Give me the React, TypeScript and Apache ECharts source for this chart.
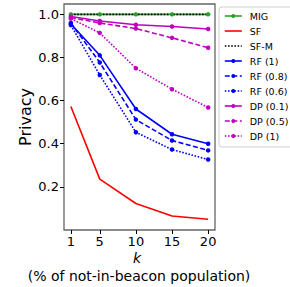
import React, { useEffect, useRef } from "react";
import * as echarts from "echarts";

const kValues = [1, 5, 10, 15, 20];
const xTicks = [1, 5, 10, 15, 20];
const yTicks = [0.2, 0.4, 0.6, 0.8, 1.0];

const mig = [1.0, 1.0, 1.0, 1.0, 1.0];
const sf = [0.573, 0.236, 0.123, 0.065, 0.05];
const sfm = [1.0, 1.0, 1.0, 1.0, 1.0];
const rf1 = [0.955, 0.81, 0.561, 0.444, 0.4];
const rf08 = [0.96, 0.777, 0.512, 0.415, 0.369];
const rf06 = [0.95, 0.719, 0.453, 0.373, 0.327];
const dp01 = [0.99, 0.969, 0.952, 0.944, 0.932];
const dp05 = [0.985, 0.96, 0.934, 0.891, 0.845];
const dp1 = [0.98, 0.914, 0.75, 0.653, 0.568];

const FONT = "DejaVu Sans";

export default function App() {
  const ref = useRef<HTMLDivElement>(null);
  useEffect(() => {
    if (!ref.current) return;
    const chart = echarts.init(ref.current, null, { renderer: "svg" });
    const pts = (arr: number[]) => kValues.map((k, i) => [k, arr[i]]);
    const dashOf = (type: string) =>
      type === "dashed" ? [5, 2.5] : type === "dotted" ? [1.6, 1.6] : "solid";
    const mk = (
      name: string,
      data: number[],
      color: string,
      type: "solid" | "dashed" | "dotted",
      symbol: string | null
    ) => ({
      name,
      type: "line",
      data: pts(data),
      symbol: symbol ?? "none",
      showSymbol: !!symbol,
      symbolSize: 4.5,
      itemStyle: { color },
      lineStyle: { color, width: 1.6, type: dashOf(type) },
      emphasis: { disabled: true },
    });
    const green = "#2ca02c";
    const blue = "#0000ff";
    const mag = "#bf00bf";
    const legendItems = [
      ["MIG", green, "solid", true],
      ["SF", "#ff0000", "solid", false],
      ["SF-M", "#000000", "dotted", false],
      ["RF (1)", blue, "solid", true],
      ["RF (0.8)", blue, "dashed", true],
      ["RF (0.6)", blue, "dotted", true],
      ["DP (0.1)", mag, "solid", true],
      ["DP (0.5)", mag, "dashed", true],
      ["DP (1)", mag, "dotted", true],
    ] as [string, string, string, boolean][];
    chart.setOption({
      animation: false,
      grid: {
        left: 64,
        right: 75,
        top: 4,
        bottom: 57,
        show: true,
        borderColor: "#666",
        borderWidth: 1.3,
        backgroundColor: "transparent",
      },
      xAxis: {
        type: "value",
        min: 0.05,
        max: 20.95,
        splitLine: { show: false },
        axisLine: { show: false },
        axisTick: {
          show: true,
          customValues: xTicks,
          length: 4,
          lineStyle: { color: "#000" },
        },
        axisLabel: {
          customValues: xTicks,
          fontFamily: FONT,
          fontSize: 13,
          color: "#000",
          margin: 5,
        },
      },
      yAxis: {
        type: "value",
        min: 0.0,
        max: 1.048,
        splitLine: { show: false },
        axisLine: { show: false },
        axisTick: {
          show: true,
          customValues: yTicks,
          length: 4,
          lineStyle: { color: "#000" },
        },
        axisLabel: {
          customValues: yTicks,
          formatter: (v: number) => v.toFixed(1),
          fontFamily: FONT,
          fontSize: 13,
          color: "#000",
          margin: 5,
        },
      },
      legend: {
        orient: "vertical",
        left: 219,
        top: 7,
        itemWidth: 17,
        itemHeight: 5,
        itemGap: 5,
        padding: [4, 30, 6, 5],
        borderColor: "#d0d0d0",
        borderWidth: 1,
        borderRadius: 3,
        backgroundColor: "#fff",
        textStyle: { fontFamily: FONT, fontSize: 9.5, color: "#000", padding: [0, 0, 0, 3] },
        data: legendItems.map(([name, color, type, sym]) => ({
          name,
          lineStyle: { color, width: 1.6, type: dashOf(type) },
          itemStyle: { color, opacity: sym ? 1 : 0 },
        })),
      },
      series: [
        mk("MIG", mig, green, "solid", "circle"),
        mk("SF", sf, "#ff0000", "solid", null),
        mk("SF-M", sfm, "#000000", "dotted", null),
        mk("RF (1)", rf1, blue, "solid", "circle"),
        mk("RF (0.8)", rf08, blue, "dashed", "circle"),
        mk("RF (0.6)", rf06, blue, "dotted", "circle"),
        mk("DP (0.1)", dp01, mag, "solid", "circle"),
        mk("DP (0.5)", dp05, mag, "dashed", "circle"),
        mk("DP (1)", dp1, mag, "dotted", "circle"),
      ],
      graphic: [
        {
          type: "text",
          x: 25,
          y: 117,
          rotation: Math.PI / 2,
          style: {
            text: "Privacy",
            fontFamily: FONT,
            fontSize: 16,
            fill: "#000",
            align: "center",
            verticalAlign: "middle",
          },
        },
        {
          type: "text",
          x: 137,
          y: 258,
          style: {
            text: "k",
            fontFamily: FONT,
            fontStyle: "italic",
            fontSize: 14,
            fill: "#000",
            align: "center",
            verticalAlign: "middle",
          },
        },
        {
          type: "text",
          x: 139,
          y: 276,
          style: {
            text: "(% of not-in-beacon population)",
            fontFamily: FONT,
            fontSize: 14,
            fill: "#000",
            align: "center",
            verticalAlign: "middle",
          },
        },
      ],
    });
    return () => chart.dispose();
  }, []);
  return <div ref={ref} style={{ width: 290, height: 287, position: "absolute", left: 0, top: 0 }} />;
}
